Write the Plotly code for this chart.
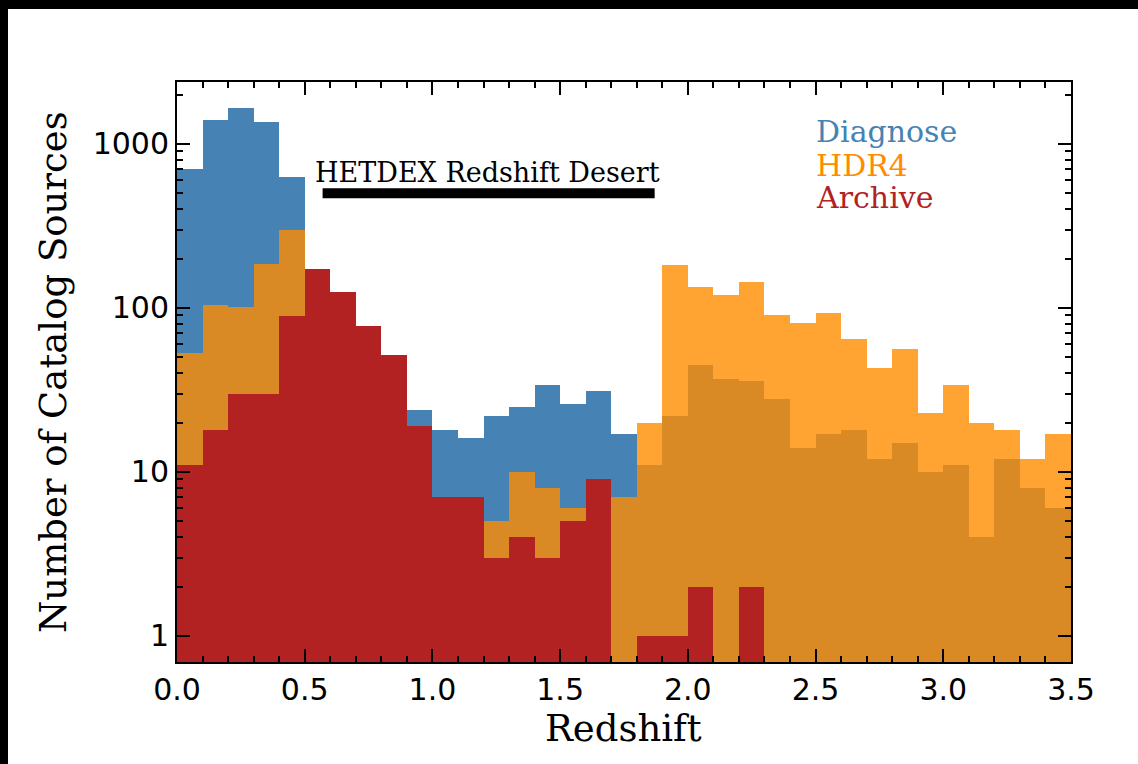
import plotly.graph_objects as go

# ---- data (counts per redshift bin, bin width 0.1 from 0.0 to 3.5) ----
bin_width = 0.1
bin_centers = [round(0.05 + 0.1 * i, 2) for i in range(35)]

diagnose = [700, 1400, 1660, 1360, 630, 160, 110, 70, 45, 24,
            18, 16, 22, 25, 34, 26, 31, 17, 11, 22,
            45, 37, 36, 28, 14, 17, 18, 12, 15, 10,
            11, 4, 12, 8, 6]
hdr4 = [53, 104, 101, 186, 298, 150, 100, 60, 40, 15,
        6, 5, 5, 10, 8, 6, 6, 7, 20, 183,
        134, 120, 145, 91, 81, 93, 65, 43, 56, 23,
        34, 20, 18, 12, 17]
archive = [11, 18, 30, 30, 89, 172, 125, 78, 52, 19,
           7, 7, 3, 4, 3, 5, 9, 0, 1, 1,
           2, 0, 2, 0, 0, 0, 0, 0, 0, 0,
           0, 0, 0, 0, 0]

series_names = ["Diagnose", "HDR4", "Archive"]
series_colors = ["#4682B4", "#FF8C00", "#B22222"]
series_opacity = [1.0, 0.8, 1.0]

desert_range = [0.57, 1.87]
desert_level = [500, 500]
desert_label = "HETDEX Redshift Desert"

x_ticks = [0.0, 0.5, 1.0, 1.5, 2.0, 2.5, 3.0, 3.5]
x_ticktext = ["0.0", "0.5", "1.0", "1.5", "2.0", "2.5", "3.0", "3.5"]
y_ticks = [1, 10, 100, 1000]
y_ticktext = ["1", "10", "100", "1000"]
y_minor = [m * 10 ** d for d in range(0, 4) for m in range(2, 10)]

SERIF = "DejaVu Serif"
SANS = "DejaVu Sans"

fig = go.Figure()
for name, vals, col, op in zip(series_names, [diagnose, hdr4, archive],
                               series_colors, series_opacity):
    fig.add_trace(go.Bar(
        x=bin_centers, y=[v if v > 0 else None for v in vals], width=bin_width,
        name=name, marker=dict(color=col, opacity=op, line=dict(width=0)),
        showlegend=False))

fig.add_trace(go.Scatter(x=desert_range, y=desert_level, mode="lines",
                         line=dict(color="black", width=10),
                         showlegend=False, hoverinfo="skip"))

W, H = 1138, 764
L, R, T, B = 177, 67, 82, 102
pw, ph = W - L - R, H - T - B

def px_x(px):
    return (px - L) / pw

def px_y(py):
    return (H - B - py) / ph

annotations = [
    dict(text=desert_label, x=1.216, y=2.829, xref="x", yref="y",
         showarrow=False, font=dict(family=SERIF, size=27, color="black")),
    dict(text="Redshift", x=px_x(623), y=px_y(728), xref="paper", yref="paper",
         xanchor="center", yanchor="middle", showarrow=False,
         font=dict(family=SERIF, size=37, color="black")),
    dict(text="Number of Catalog Sources", x=px_x(53), y=px_y(372), xref="paper", yref="paper",
         xanchor="center", yanchor="middle", textangle=-90, showarrow=False,
         font=dict(family=SERIF, size=37, color="black")),
]
legend_pos = [131, 166, 197]
for name, col, py in zip(series_names, series_colors, legend_pos):
    annotations.append(dict(text=name, x=px_x(814), y=px_y(py), xref="paper", yref="paper",
                            xanchor="left", yanchor="middle", showarrow=False,
                            font=dict(family=SERIF, size=30, color=col)))

shapes = [
    dict(type="rect", xref="paper", yref="paper", x0=px_x(0), x1=px_x(W), y0=px_y(9), y1=px_y(0),
         fillcolor="black", line=dict(width=0), layer="above"),
    dict(type="rect", xref="paper", yref="paper", x0=px_x(0), x1=px_x(8), y0=px_y(H), y1=px_y(0),
         fillcolor="black", line=dict(width=0), layer="above"),
]

fig.update_layout(
    width=W, height=H, margin=dict(l=L, r=R, t=T, b=B),
    paper_bgcolor="white", plot_bgcolor="white",
    barmode="overlay", bargap=0,
    annotations=annotations, shapes=shapes,
    xaxis=dict(range=[0, 3.5], tickvals=x_ticks, ticktext=x_ticktext,
               ticks="inside", ticklen=13, tickwidth=2, tickcolor="black",
               mirror="allticks", showline=True, linewidth=2, linecolor="black",
               showgrid=False, zeroline=False,
               tickfont=dict(family=SANS, size=30, color="black"),
               minor=dict(dtick=0.1, tick0=0, ticks="inside", ticklen=6, tickwidth=1.5,
                          tickcolor="black", showgrid=False)),
    yaxis=dict(type="log", range=[-0.159, 3.378], tickvals=y_ticks, ticktext=y_ticktext,
               ticks="inside", ticklen=13, tickwidth=2, tickcolor="black",
               mirror="allticks", showline=True, linewidth=2, linecolor="black",
               showgrid=False, zeroline=False,
               tickfont=dict(family=SANS, size=30, color="black"),
               minor=dict(tickvals=y_minor, ticks="inside", ticklen=6, tickwidth=1.5,
                          tickcolor="black", showgrid=False)),
)

fig.write_html("out.html")
